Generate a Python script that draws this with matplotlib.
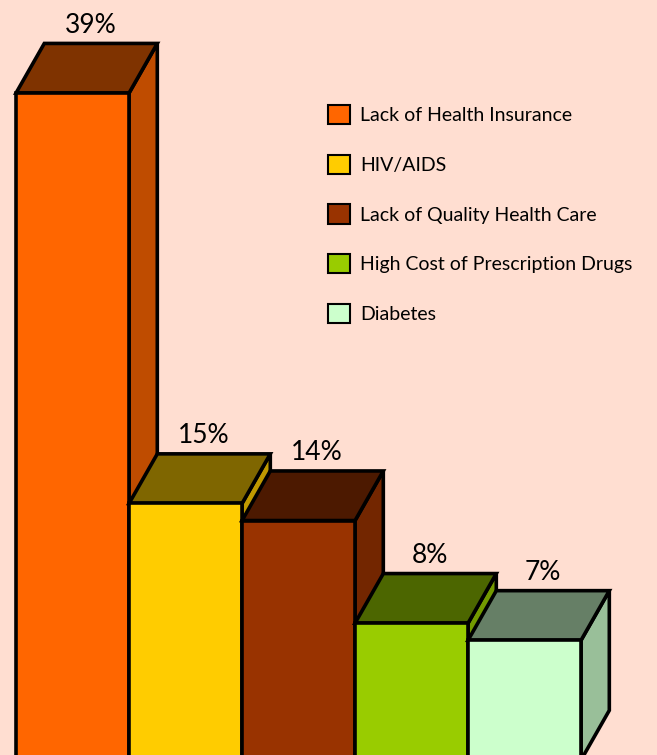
import matplotlib.pyplot as plt
from matplotlib.patches import Polygon, Patch

plt.rcParams['font.family'] = ['Lato', 'DejaVu Sans']

# Survey results: share of respondents naming each health issue
issues = ["Lack of Health Insurance", "HIV/AIDS", "Lack of Quality Health Care",
          "High Cost of Prescription Drugs", "Diabetes"]
shares = [39, 15, 14, 8, 7]
labels = ["39%", "15%", "14%", "8%", "7%"]

# front / top / side shades for each bar
front_colors = ["#FF6600", "#FFCC00", "#993300", "#99CC00", "#CCFFCC"]
top_colors = ["#7F3300", "#7F6600", "#4C1900", "#4C6600", "#667F66"]
side_colors = ["#BF4C00", "#BF9900", "#732600", "#739900", "#99BF99"]

bg = "#FFDED1"
fig = plt.figure(figsize=(6.57, 7.55), dpi=100, facecolor=bg)
ax = fig.add_axes([0, 0, 1, 1])
ax.set_facecolor(bg)

w = 1.0       # bar width
dx = 0.25     # depth offset in x
dy = 2.9      # depth offset in y (percent units)
lw = 2.6

for i, v in enumerate(shares):
    x0, x1 = i, i + w
    side = Polygon([(x1, 0), (x1 + dx, dy), (x1 + dx, v + dy), (x1, v)],
                   closed=True, facecolor=side_colors[i], edgecolor="black",
                   linewidth=lw, joinstyle="miter", zorder=2 + i)
    top = Polygon([(x0, v), (x1, v), (x1 + dx, v + dy), (x0 + dx, v + dy)],
                  closed=True, facecolor=top_colors[i], edgecolor="black",
                  linewidth=lw, joinstyle="miter", zorder=2 + i)
    front = Polygon([(x0, 0), (x1, 0), (x1, v), (x0, v)],
                    closed=True, facecolor=front_colors[i], edgecolor="black",
                    linewidth=lw, joinstyle="miter", zorder=2 + i)
    for p in (side, top, front):
        ax.add_patch(p)
    ax.text(x0 + (w + dx) / 2 + 0.04, v + dy + 1.05, labels[i],
            ha="center", va="center", fontsize=19, color="black", zorder=10)

ax.set_xlim(-0.142, 5.672)
ax.set_ylim(0.29, 44.44)
ax.axis("off")

handles = [Patch(facecolor=c, edgecolor="black", linewidth=1.5) for c in front_colors]
ax.legend(handles, issues, loc="upper left", bbox_to_anchor=(0.487, 0.871),
          frameon=False, fontsize=14, handlelength=1.15, handleheight=1.15,
          handletextpad=0.5, labelspacing=1.56, borderaxespad=0)

fig.savefig("out.png", dpi=100, facecolor=bg)
